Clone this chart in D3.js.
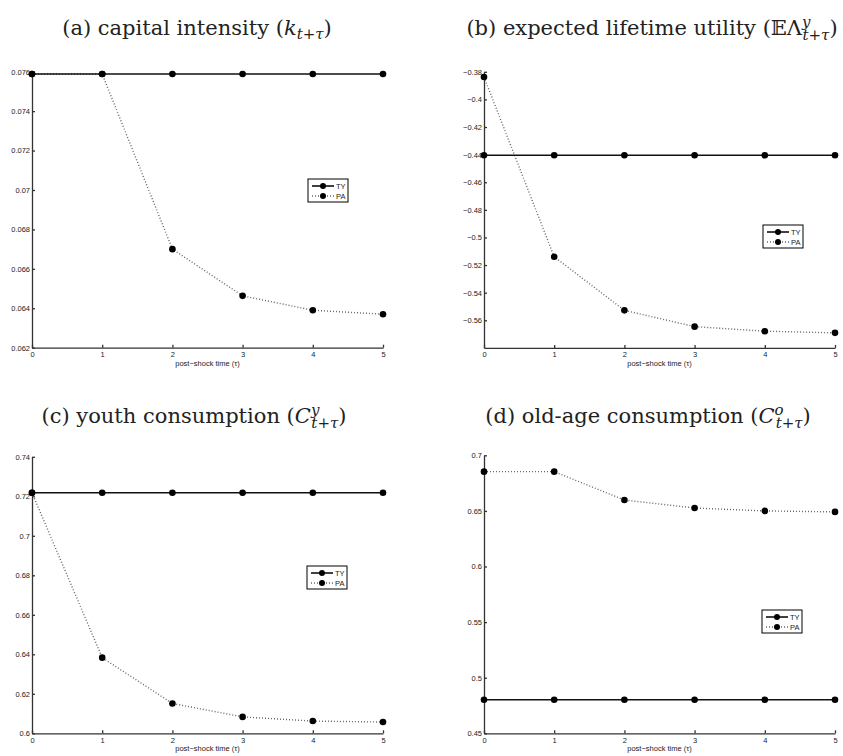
<!DOCTYPE html>
<html>
<head>
<meta charset="utf-8">
<script src="https://cdn.jsdelivr.net/npm/d3@7"></script>
<style>
  body { margin: 0; background: #fff; }
  .tick text { font-family: "Liberation Sans", Arial, sans-serif; font-size: 7.5px; fill: #222; }
  .title { font-family: "DejaVu Serif", "Liberation Serif", serif; font-size: 21px; fill: #222; }
  .xlab { font-family: "Liberation Sans", Arial, sans-serif; font-size: 7.5px; fill: #222; }
  .leg { font-family: "Liberation Sans", Arial, sans-serif; font-size: 7.5px; fill: #222; }
</style>
</head>
<body>
<svg id="chart" width="843" height="756"></svg>
<script>
// post-shock time
const tau = [0, 1, 2, 3, 4, 5];

// (a) capital intensity
const kTY = [0.07588, 0.07588, 0.07588, 0.07588, 0.07588, 0.07588];
const kPA = [0.07588, 0.07588, 0.0670, 0.06463, 0.0639, 0.0637];
const kTicks = [0.062, 0.064, 0.066, 0.068, 0.07, 0.072, 0.074, 0.076];

// (b) expected lifetime utility
const uTY = [-0.4405, -0.4405, -0.4405, -0.4405, -0.4405, -0.4405];
const uPA = [-0.3838, -0.514, -0.5528, -0.5646, -0.5679, -0.5691];
const uTicks = [-0.56, -0.54, -0.52, -0.5, -0.48, -0.46, -0.44, -0.42, -0.4, -0.38];

// (c) youth consumption
const cyTY = [0.7218, 0.7218, 0.7218, 0.7218, 0.7218, 0.7218];
const cyPA = [0.7218, 0.6383, 0.6151, 0.6083, 0.6062, 0.6057];
const cyTicks = [0.6, 0.62, 0.64, 0.66, 0.68, 0.7, 0.72, 0.74];

// (d) old-age consumption
const coTY = [0.4802, 0.4802, 0.4802, 0.4802, 0.4802, 0.4802];
const coPA = [0.6853, 0.6853, 0.6598, 0.6526, 0.6500, 0.6491];
const coTicks = [0.45, 0.5, 0.55, 0.6, 0.65, 0.7];

const svg = d3.select("#chart");
const fmt = d3.format("~g");

function drawPanel(p) {
    const x = d3.scaleLinear().domain([0, 5]).range([p.left, p.right]);
    const y = d3.scaleLinear().domain(p.ydom).range([p.bottom, p.top]);

    const g = svg.append("g");

    g.append("g")
        .attr("transform", `translate(0,${p.bottom})`)
        .call(d3.axisBottom(x).tickValues(tau).tickSize(-3).tickSizeOuter(0).tickPadding(4).tickFormat(fmt))
        .call(a => a.selectAll("path, line").attr("stroke", "#333").attr("stroke-width", 1.3));

    g.append("g")
        .attr("transform", `translate(${p.left},0)`)
        .call(d3.axisLeft(y).tickValues(p.ticks).tickSize(-3).tickSizeOuter(0).tickPadding(2).tickFormat(fmt))
        .call(a => a.selectAll("path, line").attr("stroke", "#333").attr("stroke-width", 1.3));

    g.append("text").attr("class", "xlab")
        .attr("x", (p.left + p.right) / 2).attr("y", p.bottom + 18)
        .attr("text-anchor", "middle")
        .text(p.xlabel);

    const line = d3.line().x((d, i) => x(tau[i])).y(d => y(d));

    g.append("path").datum(p.pa)
        .attr("fill", "none").attr("stroke", "#666").attr("stroke-width", 1.4)
        .attr("stroke-dasharray", "1,2")
        .attr("d", line);
    g.append("path").datum(p.ty)
        .attr("fill", "none").attr("stroke", "#111").attr("stroke-width", 1.6)
        .attr("d", line);

    [p.pa, p.ty].forEach(s => {
        g.selectAll(null).data(s).enter().append("circle")
            .attr("cx", (d, i) => x(tau[i]))
            .attr("cy", d => y(d))
            .attr("r", 3.3)
            .attr("fill", "#000");
    });

    // legend
    const lg = g.append("g").attr("transform", `translate(${p.leg[0]},${p.leg[1]})`);
    lg.append("rect").attr("width", 40).attr("height", 23)
        .attr("fill", "#fff").attr("stroke", "#000").attr("stroke-width", 1);
    ["TY", "PA"].forEach((name, i) => {
        const yy = 7 + i * 10;
        lg.append("line").attr("x1", 4).attr("x2", 26).attr("y1", yy).attr("y2", yy)
            .attr("stroke", i ? "#666" : "#111").attr("stroke-width", i ? 1.4 : 1.6)
            .attr("stroke-dasharray", i ? "1,2" : null);
        lg.append("circle").attr("cx", 15).attr("cy", yy).attr("r", 3).attr("fill", "#000");
        lg.append("text").attr("class", "leg").attr("x", 28).attr("y", yy + 2.7).text(name);
    });

    // title
    const t = g.append("text").attr("class", "title")
        .attr("x", p.tx).attr("y", p.ty0).attr("text-anchor", "middle");
    p.title(t);
}

drawPanel({
    left: 32, right: 383, top: 71.7, bottom: 347.7, ydom: [0.062, 0.076], ticks: kTicks,
    ty: kTY, pa: kPA, leg: [308, 179], xlabel: "post\u2212shock time  (\u03c4)",
    tx: 197, ty0: 35,
    title: t => {
        t.append("tspan").text("(a) capital intensity (");
        t.append("tspan").attr("font-style", "italic").text("k");
        t.append("tspan").attr("font-style", "italic").attr("font-size", 15).attr("dy", 4).text("t+\u03c4");
        t.append("tspan").attr("dy", -4).text(")");
    }
});

drawPanel({
    left: 484, right: 835, top: 71.8, bottom: 347.9, ydom: [-0.58, -0.38], ticks: uTicks,
    ty: uTY, pa: uPA, leg: [763, 225], xlabel: "post\u2212shock time (\u03c4)",
    tx: 652, ty0: 35,
    title: t => {
        t.append("tspan").text("(b) expected lifetime utility (\ud835\udd3c\u039b");
        t.append("tspan").attr("font-style", "italic").attr("font-size", 15).attr("dy", -8).text("y");
        t.append("tspan").attr("font-style", "italic").attr("font-size", 15).attr("dx", -8).attr("dy", 13).text("t+\u03c4");
        t.append("tspan").attr("dy", -5).text(")");
    }
});

drawPanel({
    left: 32, right: 383, top: 456.8, bottom: 733.3, ydom: [0.6, 0.74], ticks: cyTicks,
    ty: cyTY, pa: cyPA, leg: [307, 566], xlabel: "post\u2212shock time (\u03c4)",
    tx: 194, ty0: 423,
    title: t => {
        t.append("tspan").text("(c) youth consumption (");
        t.append("tspan").attr("font-style", "italic").text("C");
        t.append("tspan").attr("font-style", "italic").attr("font-size", 15).attr("dy", -8).text("y");
        t.append("tspan").attr("font-style", "italic").attr("font-size", 15).attr("dx", -8).attr("dy", 13).text("t+\u03c4");
        t.append("tspan").attr("dy", -5).text(")");
    }
});

drawPanel({
    left: 484, right: 835, top: 455.3, bottom: 733.3, ydom: [0.45, 0.7], ticks: coTicks,
    ty: coTY, pa: coPA, leg: [762, 610], xlabel: "post\u2212shock time (\u03c4)",
    tx: 648, ty0: 423,
    title: t => {
        t.append("tspan").text("(d) old-age consumption (");
        t.append("tspan").attr("font-style", "italic").text("C");
        t.append("tspan").attr("font-style", "italic").attr("font-size", 15).attr("dy", -8).text("o");
        t.append("tspan").attr("font-style", "italic").attr("font-size", 15).attr("dx", -8).attr("dy", 13).text("t+\u03c4");
        t.append("tspan").attr("dy", -5).text(")");
    }
});
</script>
</body>
</html>
